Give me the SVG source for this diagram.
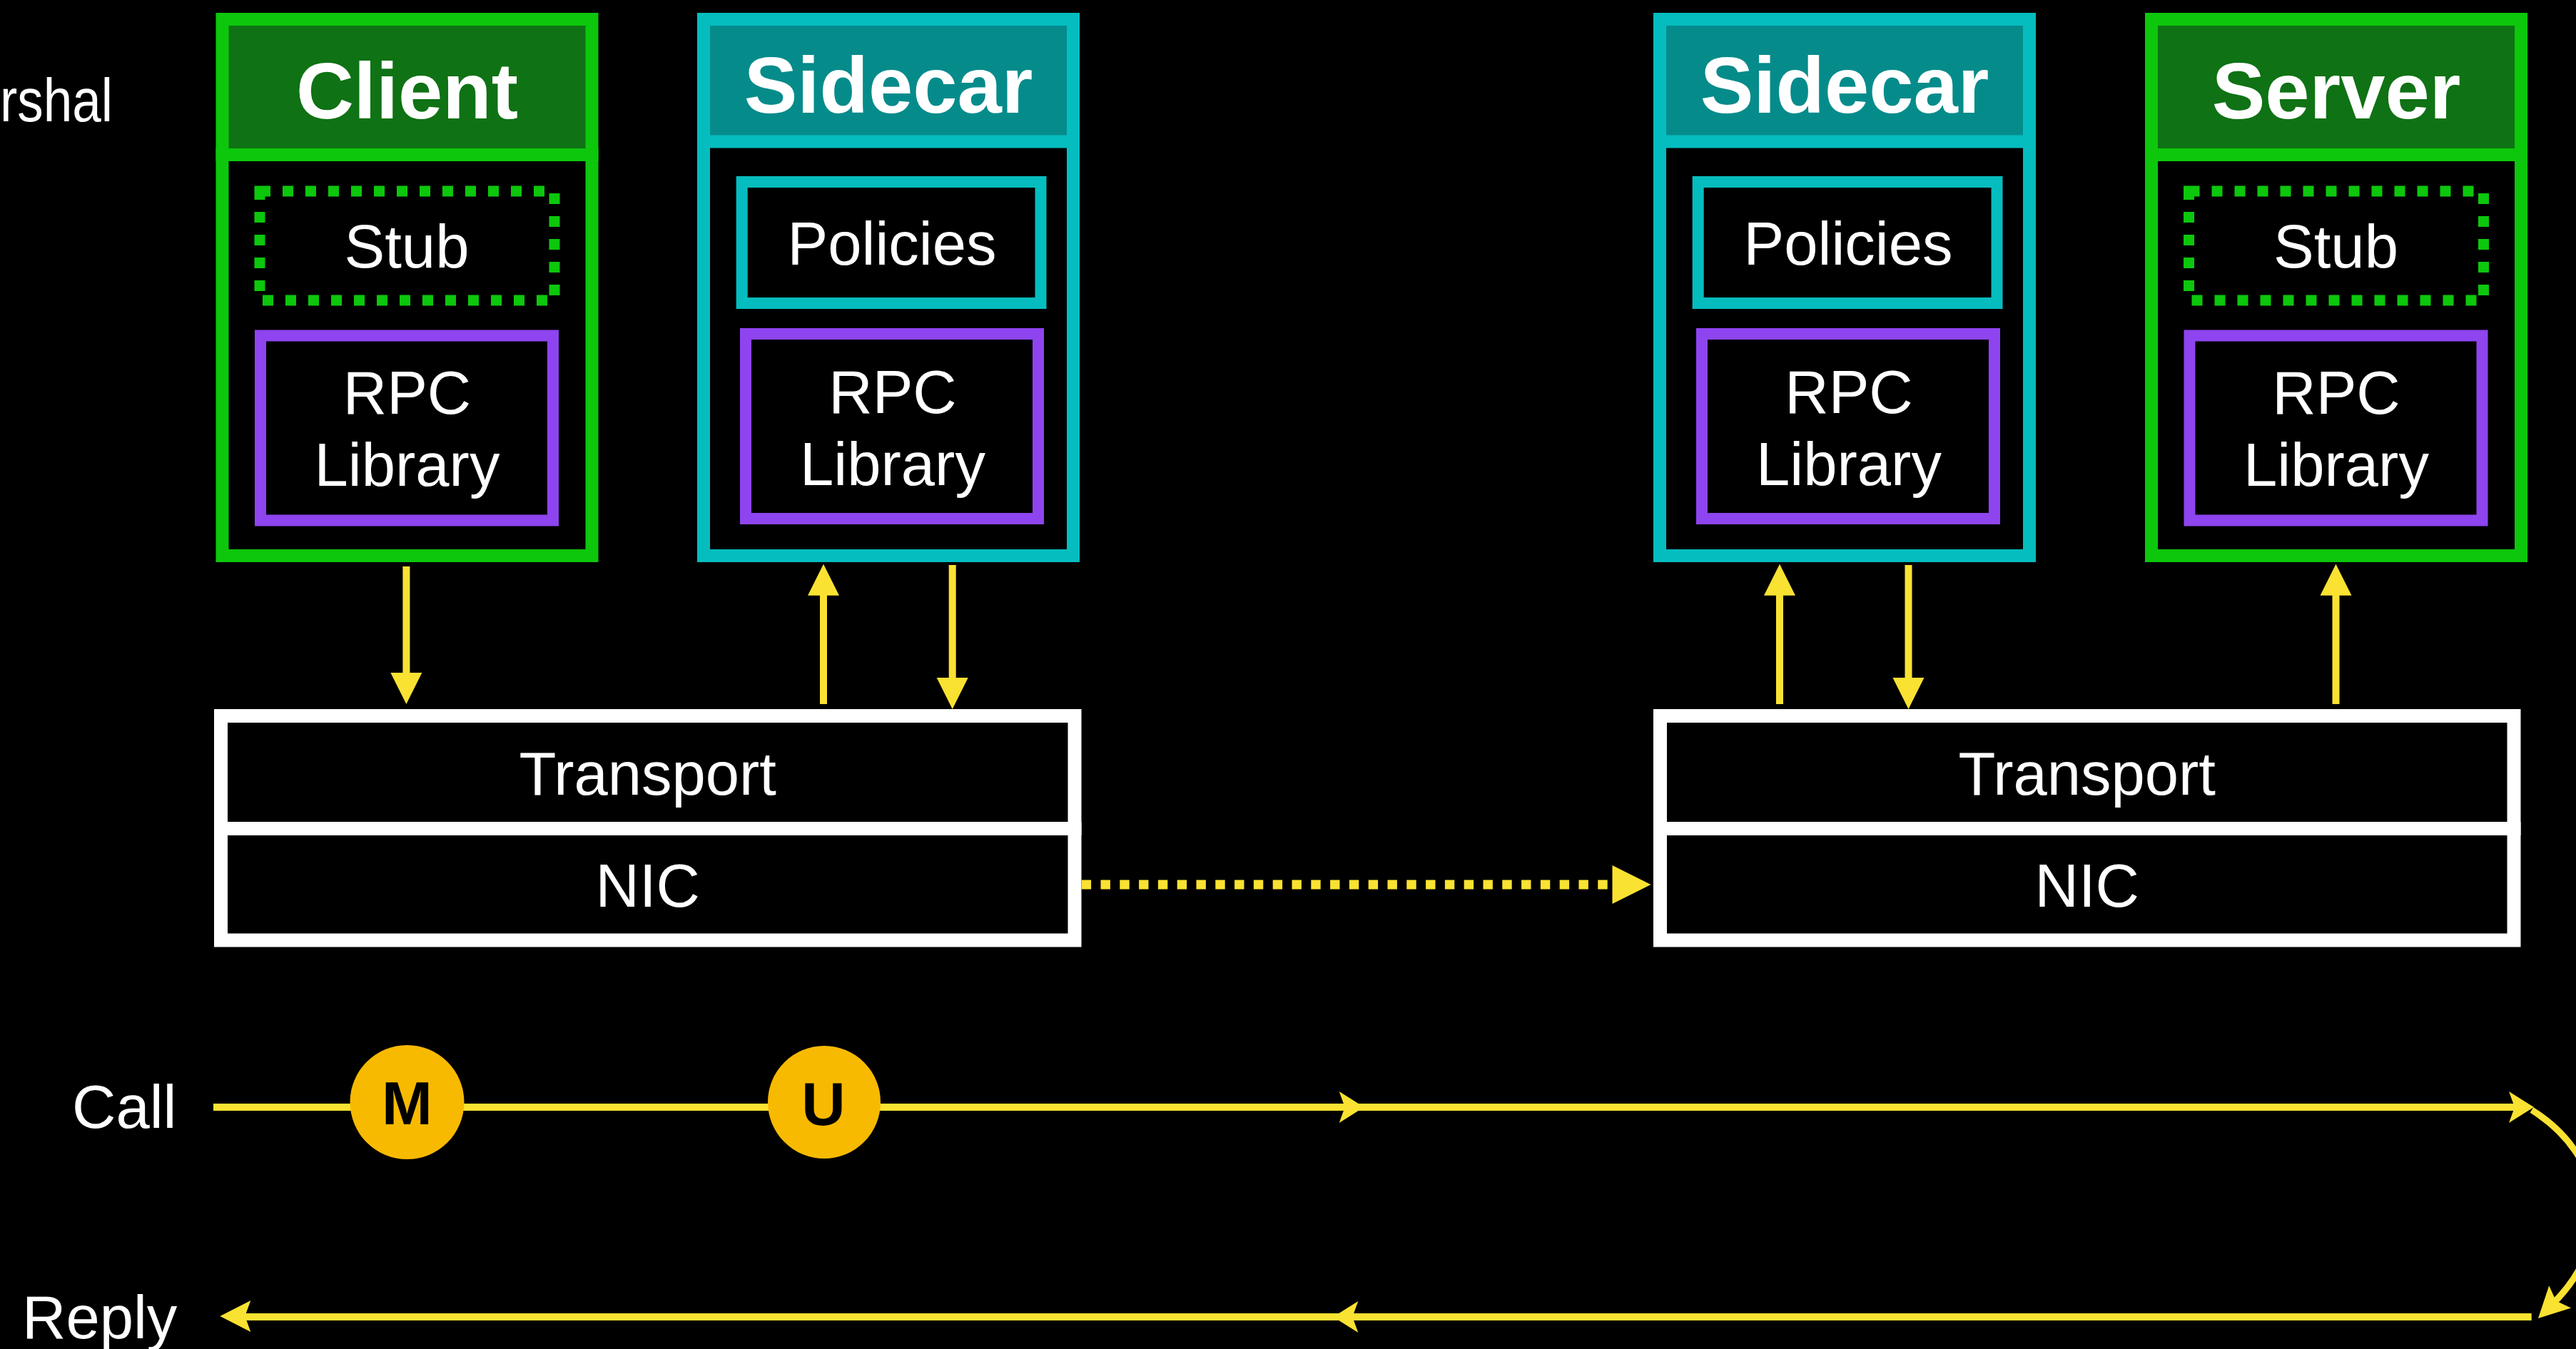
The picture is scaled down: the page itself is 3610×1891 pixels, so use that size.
<svg xmlns="http://www.w3.org/2000/svg" xmlns:xlink="http://www.w3.org/1999/xlink" width="3610" height="1891" viewBox="0 0 3610 1891">
  <style>
    text { font-family: "Liberation Sans", Arial, Helvetica, sans-serif; fill: #ffffff; text-anchor: middle; }
    .title { font-weight: bold; font-size: 112px; }
    .label { font-size: 85px; }
    .left { text-anchor: start; }
    .end { text-anchor: end; }
    .greenFrame { fill: none; stroke: #0cc70c; stroke-width: 18; }
    .greenHead { fill: #0f7214; }
    .tealFrame { fill: none; stroke: #05bdbf; stroke-width: 18; }
    .tealHead { fill: #068b8b; }
    .tealBox { fill: none; stroke: #05bdbf; stroke-width: 16; }
    .stub { fill: none; stroke: #0cc70c; stroke-width: 15; stroke-dasharray: 15 17; }
    .rpc { fill: none; stroke: #8e44ef; stroke-width: 16; }
    .stack { fill: none; stroke: #ffffff; stroke-width: 19; }
    .flow { fill: none; stroke: #fae232; stroke-width: 10; }
    .head { fill: #fae232; }
    .token { fill: #f8ba00; }
    .tokenText { fill: #000000; font-size: 85px; font-weight: bold; }
  </style>
  <defs>
    <!-- arrowheads, tip at origin, pointing along +x -->
    <path id="notch" d="M0,0 L-35,-22 L-27,0 L-35,22 Z"/>
    <path id="notchLong" d="M0,0 L-43,-22 L-35,0 L-43,22 Z"/>
    <path id="tri" d="M0,0 L-44,-22 L-44,22 Z"/>
    <path id="triBig" d="M0,0 L-54,-27 L-54,27 Z"/>
  </defs>

  <rect x="0" y="0" width="3610" height="1891" fill="#000000"/>

  <text class="label left" x="0" y="170" textLength="158" lengthAdjust="spacingAndGlyphs">rshal</text>

  <!-- client process -->
  <g id="client">
    <rect class="greenHead" x="311.5" y="27" width="518" height="190"/>
    <rect class="greenFrame" x="311.5" y="27" width="518" height="752"/>
    <line x1="302.5" y1="217" x2="838.5" y2="217" stroke="#0cc70c" stroke-width="18"/>
    <text class="title" x="570.5" y="166">Client</text>
    <g id="client-stub">
      <rect class="stub" x="364" y="268" width="413" height="153"/>
      <text class="label" x="570" y="375">Stub</text>
    </g>
    <g id="client-rpc">
      <rect class="rpc" x="365" y="470.5" width="410" height="259"/>
      <text class="label" x="570.5" y="580">RPC</text>
      <text class="label" x="570.5" y="681">Library</text>
    </g>
  </g>

  <!-- client-side sidecar -->
  <g id="sidecar-client">
    <rect class="tealHead" x="986" y="27" width="518" height="171.5"/>
    <rect class="tealFrame" x="986" y="27" width="518" height="752"/>
    <line x1="977" y1="198.5" x2="1513" y2="198.5" stroke="#05bdbf" stroke-width="18"/>
    <text class="title" x="1245" y="158">Sidecar</text>
    <g id="sidecar-client-policies">
      <rect class="tealBox" x="1039.7" y="255" width="418.8" height="170"/>
      <text class="label" x="1250" y="371">Policies</text>
    </g>
    <g id="sidecar-client-rpc">
      <rect class="rpc" x="1045" y="468" width="410" height="259"/>
      <text class="label" x="1251" y="579">RPC</text>
      <text class="label" x="1251" y="680">Library</text>
    </g>
  </g>

  <!-- server-side sidecar -->
  <g id="sidecar-server">
    <rect class="tealHead" x="2326" y="27" width="518" height="171.5"/>
    <rect class="tealFrame" x="2326" y="27" width="518" height="752"/>
    <line x1="2317" y1="198.5" x2="2853" y2="198.5" stroke="#05bdbf" stroke-width="18"/>
    <text class="title" x="2585" y="158">Sidecar</text>
    <g id="sidecar-server-policies">
      <rect class="tealBox" x="2379.7" y="255" width="418.8" height="170"/>
      <text class="label" x="2590" y="371">Policies</text>
    </g>
    <g id="sidecar-server-rpc">
      <rect class="rpc" x="2385" y="468" width="410" height="259"/>
      <text class="label" x="2591" y="579">RPC</text>
      <text class="label" x="2591" y="680">Library</text>
    </g>
  </g>

  <!-- server process -->
  <g id="server">
    <rect class="greenHead" x="3015" y="27" width="518" height="190"/>
    <rect class="greenFrame" x="3015" y="27" width="518" height="752"/>
    <line x1="3006" y1="217" x2="3542" y2="217" stroke="#0cc70c" stroke-width="18"/>
    <text class="title" x="3274" y="166">Server</text>
    <g id="server-stub">
      <rect class="stub" x="3067.5" y="268" width="413" height="153"/>
      <text class="label" x="3273.5" y="375">Stub</text>
    </g>
    <g id="server-rpc">
      <rect class="rpc" x="3068.5" y="470.5" width="410" height="259"/>
      <text class="label" x="3274" y="580">RPC</text>
      <text class="label" x="3274" y="681">Library</text>
    </g>
  </g>

  <!-- network stacks -->
  <g id="stack-client">
    <rect class="stack" x="309.5" y="1003.5" width="1196.5" height="314.5"/>
    <line x1="300" y1="1161.5" x2="1515.5" y2="1161.5" stroke="#ffffff" stroke-width="19"/>
    <text class="label" x="907.7" y="1114" font-size="86">Transport</text>
    <text class="label" x="907.7" y="1271" font-size="86">NIC</text>
  </g>
  <g id="stack-server">
    <rect class="stack" x="2326.5" y="1003.5" width="1196.5" height="314.5"/>
    <line x1="2317" y1="1161.5" x2="3532.5" y2="1161.5" stroke="#ffffff" stroke-width="19"/>
    <text class="label" x="2924.7" y="1114" font-size="86">Transport</text>
    <text class="label" x="2924.7" y="1271" font-size="86">NIC</text>
  </g>

  <!-- timeline labels -->
  <text class="label left" x="101" y="1581" font-size="87">Call</text>
  <text class="label left" x="31" y="1876">Reply</text>

  <g id="connectors">
    <!-- process to stack -->
    <line class="flow" x1="569.4" y1="794" x2="569.4" y2="950"/>
    <use xlink:href="#tri" class="head" transform="translate(569.4,987) rotate(90)"/>
    <line class="flow" x1="1154" y1="830" x2="1154" y2="987"/>
    <use xlink:href="#tri" class="head" transform="translate(1154,790.7) rotate(-90)"/>
    <line class="flow" x1="1334.7" y1="792" x2="1334.7" y2="955"/>
    <use xlink:href="#tri" class="head" transform="translate(1334.7,994) rotate(90)"/>
    <line class="flow" x1="2494" y1="830" x2="2494" y2="987"/>
    <use xlink:href="#tri" class="head" transform="translate(2494,790.7) rotate(-90)"/>
    <line class="flow" x1="2674.5" y1="792" x2="2674.5" y2="955"/>
    <use xlink:href="#tri" class="head" transform="translate(2674.5,994) rotate(90)"/>
    <line class="flow" x1="3273.5" y1="830" x2="3273.5" y2="987"/>
    <use xlink:href="#tri" class="head" transform="translate(3273.5,790.7) rotate(-90)"/>

    <!-- wire between NICs -->
    <line x1="1515.7" y1="1240" x2="2259" y2="1240" stroke="#fae232" stroke-width="13" stroke-dasharray="13.4 13.4"/>
    <use xlink:href="#triBig" class="head" transform="translate(2313.5,1240)"/>

    <!-- call path -->
    <line class="flow" x1="299" y1="1552" x2="3530" y2="1552"/>
    <use xlink:href="#notch" class="head" transform="translate(1911.7,1552)"/>
    <use xlink:href="#notch" class="head" transform="translate(3551,1552)"/>

    <!-- turnaround -->
    <path d="M3548,1556 C3650,1620 3668,1737 3578,1827" fill="none" stroke="#fae232" stroke-width="9"/>
    <use xlink:href="#notchLong" class="head" transform="translate(3557,1848) rotate(135.5)"/>

    <!-- reply path -->
    <line class="flow" x1="3547.7" y1="1846" x2="340" y2="1846"/>
    <use xlink:href="#notch" class="head" transform="translate(1868.3,1846) rotate(180)"/>
    <use xlink:href="#notchLong" class="head" transform="translate(308.3,1845) rotate(180)"/>
  </g>

  <!-- marshal / unmarshal points on the call path -->
  <g id="marshal">
    <circle class="token" cx="570.5" cy="1545" r="80"/>
    <text class="tokenText" x="570.5" y="1576">M</text>
  </g>
  <g id="unmarshal">
    <circle class="token" cx="1155" cy="1545" r="79"/>
    <text class="tokenText" x="1154" y="1577">U</text>
  </g>
</svg>
